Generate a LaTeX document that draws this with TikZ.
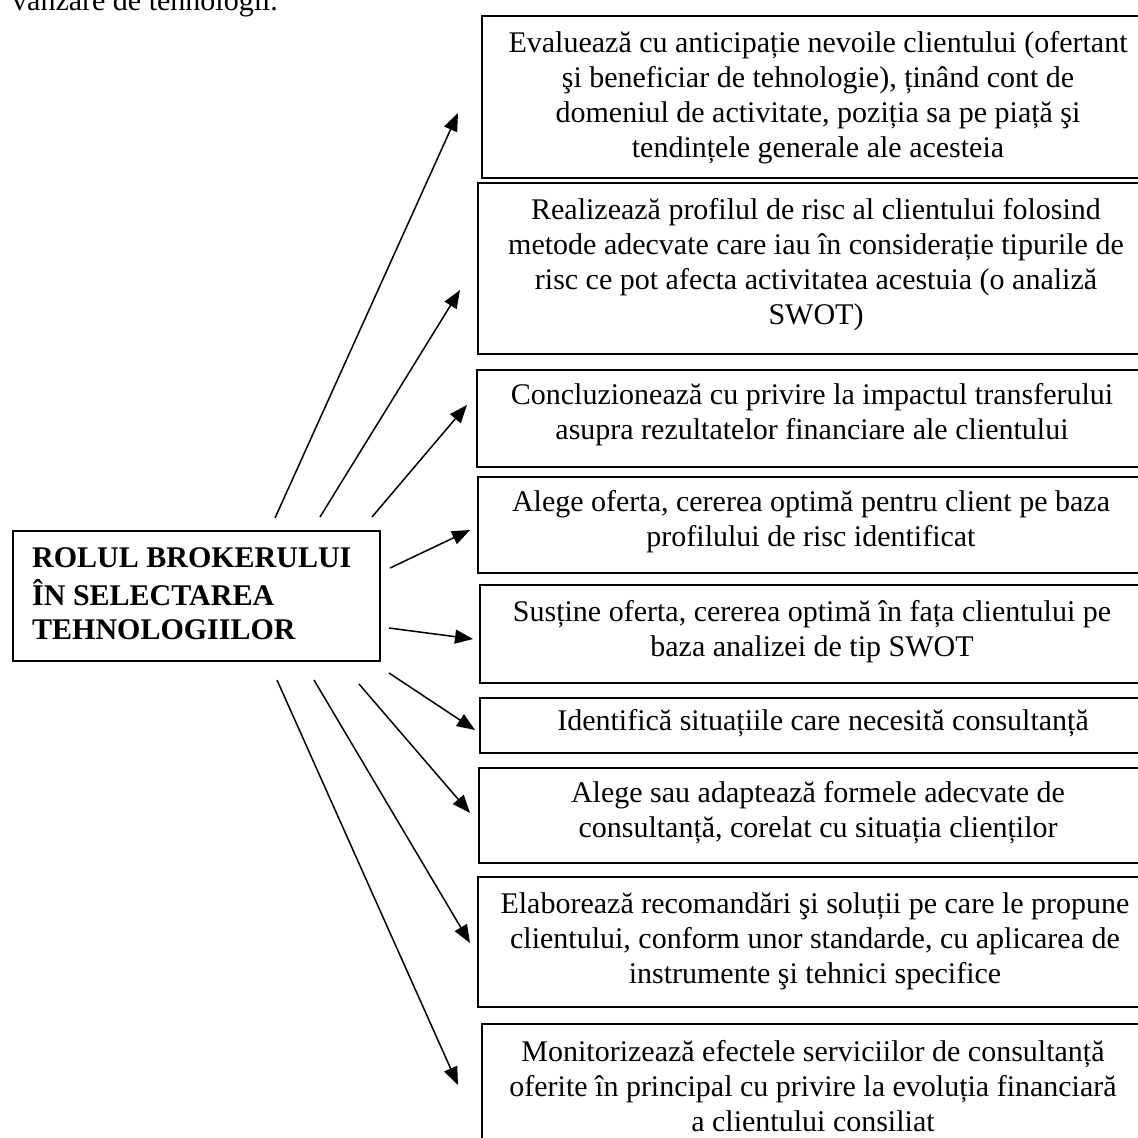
\documentclass[tikz,border=0pt]{standalone}
\usepackage{fontspec}
\setmainfont{Liberation Serif}
\usetikzlibrary{arrows.meta}
\begin{document}
\begin{tikzpicture}[x=1pt,y=-1pt,
  frame/.style={draw, line width=1.8pt, anchor=north west, inner sep=0pt},
  txt/.style={anchor=north, inner sep=0pt, align=center,
              font=\fontsize{30}{35}\selectfont},
  ttl/.style={anchor=north west, inner sep=0pt, align=left,
              font=\fontsize{30}{34.5}\selectfont\bfseries},
  arr/.style={line width=1.5pt, -{Triangle[length=18pt,width=14pt]}}]
\useasboundingbox (0,0) rectangle (1138,1138);

% closing words of the preceding sentence
\node[anchor=base west, inner sep=0pt, font=\fontsize{30}{35}\selectfont] (prev) at (12,10) {vânzare de tehnologii.};

% central box
\node[frame, minimum width=367pt, minimum height=130pt] (hub) at (12,530) {};
\node[ttl] (hubtxt) at (32,543.5) {\strut ROLUL BROKERULUI\\ÎN SELECTAREA\\TEHNOLOGIILOR};

% role boxes
\node[frame, minimum width=690pt, minimum height=162pt] (b1) at (481,15) {};
\node[frame, minimum width=694pt, minimum height=171pt] (b2) at (477,182) {};
\node[frame, minimum width=695pt, minimum height=97pt]  (b3) at (476,369) {};
\node[frame, minimum width=694pt, minimum height=96pt]  (b4) at (477,476) {};
\node[frame, minimum width=692pt, minimum height=98pt]  (b5) at (479,584) {};
\node[frame, minimum width=692pt, minimum height=55pt]  (b6) at (479,697) {};
\node[frame, minimum width=693pt, minimum height=95pt]  (b7) at (478,767) {};
\node[frame, minimum width=694pt, minimum height=130pt] (b8) at (477,876) {};
\node[frame, minimum width=690pt, minimum height=150pt] (b9) at (481,1023) {};

\node[txt] (t1) at (818,27.5) {\strut Evaluează cu anticipație nevoile clientului (ofertant\\
  şi beneficiar de tehnologie), ținând cont de\\
  domeniul de activitate, poziția sa pe piață şi\\
  tendințele generale ale acesteia};
\node[txt] (t2) at (816,194.5) {\strut Realizează profilul de risc al clientului folosind\\
  metode adecvate care iau în considerație tipurile de\\
  risc ce pot afecta activitatea acestuia (o analiză\\
  SWOT)};
\node[txt] (t3) at (812,379.5) {\strut Concluzionează cu privire la impactul transferului\\
  asupra rezultatelor financiare ale clientului};
\node[txt] (t4) at (811,486.5) {\strut Alege oferta, cererea optimă pentru client pe baza\\
  profilului de risc identificat};
\node[txt] (t5) at (812,596.5) {\strut Susține oferta, cererea optimă în fața clientului pe\\
  baza analizei de tip SWOT};
\node[txt] (t6) at (823,705.5) {\strut Identifică situațiile care necesită consultanță};
\node[txt] (t7) at (818,777.5) {\strut Alege sau adaptează formele adecvate de\\
  consultanță, corelat cu situația clienților};
\node[txt] (t8) at (815,888.5) {\strut Elaborează recomandări şi soluții pe care le propune\\
  clientului, conform unor standarde, cu aplicarea de\\
  instrumente şi tehnici specifice};
\node[txt] (t9) at (813,1036.5) {\strut Monitorizează efectele serviciilor de consultanță\\
  oferite în principal cu privire la evoluția financiară\\
  a clientului consiliat};

% arrow ends around the central box and in front of each role box
\coordinate (s1) at (275,518); \coordinate (e1) at (458,113);
\coordinate (s2) at (320,517); \coordinate (e2) at (460,290);
\coordinate (s3) at (372,517); \coordinate (e3) at (467,405);
\coordinate (s4) at (390,568); \coordinate (e4) at (470,530);
\coordinate (s5) at (389,628); \coordinate (e5) at (473,639);
\coordinate (s6) at (389,673); \coordinate (e6) at (475,730);
\coordinate (s7) at (359,684); \coordinate (e7) at (470,813);
\coordinate (s8) at (314,680); \coordinate (e8) at (470,943);
\coordinate (s9) at (277,680); \coordinate (e9) at (458,1085);

\foreach \i in {1,...,9} \draw[arr] (s\i) -- (e\i);
\end{tikzpicture}
\end{document}
